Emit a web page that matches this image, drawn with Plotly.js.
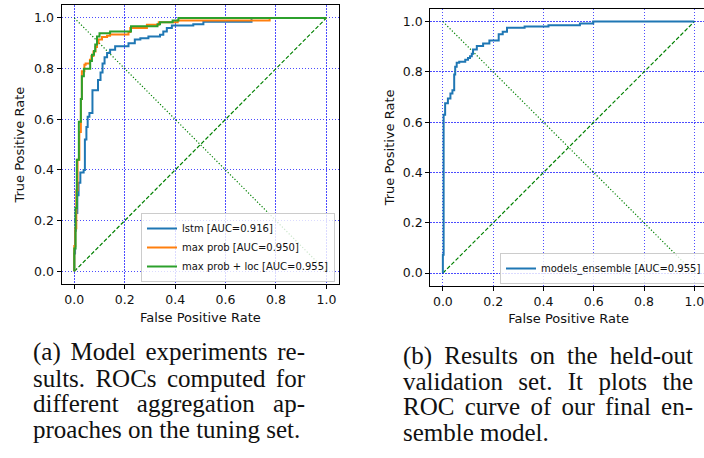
<!DOCTYPE html>
<html>
<head>
<meta charset="utf-8">
<script src="https://cdn.plot.ly/plotly-3.0.1.min.js"></script>
<style>
html,body{margin:0;padding:0;background:#fff;overflow:hidden;width:704px;height:458px;}
#chart{width:712px;height:458px;}
</style>
</head>
<body>
<div id="chart"></div>
<script>
// ---------- data ----------
const tickVals = [0, 0.2, 0.4, 0.6, 0.8, 1.0];
const tickText = ['0.0', '0.2', '0.4', '0.6', '0.8', '1.0'];

const lstmName = 'lstm [AUC=0.916]';
const lstmFpr = [0,0,0.003,0.003,0.006,0.006,0.012,0.012,0.017,0.017,0.024,0.024,0.037,0.037,0.042,0.042,0.048,0.048,0.053,0.053,0.06,0.06,0.072,0.072,0.094,0.094,0.104,0.104,0.112,0.112,0.12,0.12,0.13,0.13,0.142,0.142,0.162,0.162,0.215,0.215,0.24,0.24,0.262,0.262,0.294,0.294,0.34,0.34,0.353,0.353,0.367,0.367,0.387,0.387,0.472,0.472,0.512,0.512,0.703,0.703,1];
const lstmTpr = [0,0.07,0.07,0.16,0.16,0.23,0.23,0.30,0.30,0.35,0.35,0.39,0.39,0.40,0.40,0.52,0.52,0.57,0.57,0.61,0.61,0.625,0.625,0.715,0.715,0.755,0.755,0.785,0.785,0.82,0.82,0.845,0.845,0.862,0.862,0.875,0.875,0.888,0.888,0.9,0.9,0.915,0.915,0.92,0.92,0.927,0.927,0.934,0.934,0.947,0.947,0.96,0.96,0.97,0.97,0.975,0.975,0.985,0.985,1.0,1.0];

const probName = 'max prob [AUC=0.950]';
const probFpr = [0,0,0.004,0.004,0.008,0.008,0.013,0.013,0.02,0.02,0.026,0.026,0.03,0.03,0.04,0.04,0.045,0.045,0.062,0.062,0.068,0.068,0.076,0.076,0.084,0.084,0.09,0.09,0.096,0.096,0.11,0.11,0.13,0.13,0.142,0.142,0.215,0.215,0.222,0.222,0.288,0.288,0.335,0.335,0.41,0.41,0.775,0.775,1];
const probTpr = [0,0.1,0.1,0.17,0.17,0.32,0.32,0.44,0.44,0.55,0.55,0.68,0.68,0.79,0.79,0.815,0.815,0.82,0.82,0.835,0.835,0.85,0.85,0.868,0.868,0.885,0.885,0.9,0.9,0.915,0.915,0.925,0.925,0.93,0.93,0.935,0.935,0.945,0.945,0.96,0.96,0.973,0.973,0.983,0.983,0.99,0.99,1.0,1.0];

const locName = 'max prob + loc [AUC=0.955]';
const locFpr = [0,0,0.005,0.005,0.01,0.01,0.018,0.018,0.026,0.026,0.03,0.03,0.038,0.038,0.063,0.063,0.07,0.07,0.078,0.078,0.083,0.083,0.09,0.09,0.1,0.1,0.142,0.142,0.225,0.225,0.33,0.33,0.34,0.34,0.39,0.39,0.413,0.413,1];
const locTpr = [0,0.09,0.09,0.25,0.25,0.44,0.44,0.59,0.59,0.68,0.68,0.77,0.77,0.80,0.80,0.83,0.83,0.855,0.855,0.87,0.87,0.895,0.895,0.927,0.927,0.94,0.94,0.947,0.947,0.967,0.967,0.975,0.975,0.983,0.983,0.99,0.99,1.0,1.0];

const ensName = 'models_ensemble [AUC=0.955]';
const ensFpr = [0,0,0.003,0.003,0.009,0.009,0.02,0.02,0.03,0.03,0.038,0.038,0.045,0.045,0.049,0.049,0.055,0.055,0.065,0.065,0.089,0.089,0.1,0.1,0.108,0.108,0.115,0.115,0.12,0.12,0.135,0.135,0.16,0.16,0.185,0.185,0.222,0.222,0.238,0.238,0.255,0.255,0.325,0.325,0.42,0.42,0.545,0.545,0.598,0.598,1];
const ensTpr = [0,0.073,0.073,0.63,0.63,0.675,0.675,0.694,0.694,0.714,0.714,0.727,0.727,0.79,0.79,0.82,0.82,0.836,0.836,0.84,0.84,0.848,0.848,0.855,0.855,0.862,0.862,0.872,0.872,0.889,0.889,0.903,0.903,0.913,0.913,0.925,0.925,0.95,0.95,0.96,0.96,0.975,0.975,0.98,0.98,0.985,0.985,0.992,0.992,1.0,1.0];

const chanceX = [0, 1];
const chanceY = [0, 1];
const antiY = [1, 0];

const xTitle = 'False Positive Rate';
const yTitle = 'True Positive Rate';

const captionA = ['(a) Model experiments re-', 'sults. ROCs computed for', 'different aggregation ap-', 'proaches on the tuning set.'];
const captionB = ['(b) Results on the held-out', 'validation set. It plots the', 'ROC curve of our final en-', 'semble model.'];

// ---------- layout helpers ----------
const W = 712, H = 458;
const px = p => p / W;
const py = p => 1 - p / H;

const blue = '#1f77b4', orange = '#ff7f0e', green = '#2ca02c', diagGreen = '#008000';

function curve(xs, ys, name, color, xa, ya, lg) {
  return {x: xs, y: ys, name: name, mode: 'lines', type: 'scatter',
    line: {color: color, width: 2}, xaxis: xa, yaxis: ya, legend: lg, hoverinfo: 'skip'};
}
function diag(ys, dash, width, xa, ya) {
  return {x: chanceX, y: ys, mode: 'lines', type: 'scatter', showlegend: false,
    line: {color: diagGreen, width: width, dash: dash}, xaxis: xa, yaxis: ya, hoverinfo: 'skip'};
}

const traces = [
  diag(chanceY, '4px,2px', 1.2, 'x', 'y'),
  diag(antiY, '1.2px,2px', 1.2, 'x', 'y'),
  curve(lstmFpr, lstmTpr, lstmName, blue, 'x', 'y', 'legend'),
  curve(probFpr, probTpr, probName, orange, 'x', 'y', 'legend'),
  curve(locFpr, locTpr, locName, green, 'x', 'y', 'legend'),
  diag(chanceY, '4px,2px', 1.2, 'x2', 'y2'),
  diag(antiY, '1.2px,2px', 1.2, 'x2', 'y2'),
  curve(ensFpr, ensTpr, ensName, blue, 'x2', 'y2', 'legend2')
];

const tickFont = {family: 'DejaVu Sans', size: 12.5, color: '#111'};
function axis(domain, anchor, title, standoff) {
  return {
    domain: domain, anchor: anchor, range: [-0.05, 1.05], autorange: false,
    tickmode: 'array', tickvals: tickVals, ticktext: tickText,
    ticks: 'outside', ticklen: 4, tickwidth: 1, tickcolor: '#000',
    showline: true, mirror: true, linecolor: '#000', linewidth: 1.2,
    showgrid: true, gridcolor: 'rgba(0,0,255,0.7)', gridwidth: 1, griddash: '1.2px,1.8px',
    zeroline: false, tickfont: tickFont, fixedrange: true,
    title: {text: title, font: {family: 'DejaVu Sans', size: 13, color: '#111'}, standoff: standoff}
  };
}

const legendBase = {
  xref: 'paper', yref: 'paper', xanchor: 'right', yanchor: 'bottom',
  bgcolor: 'rgba(255,255,255,0.8)', bordercolor: '#cccccc', borderwidth: 1,
  font: {family: 'DejaVu Sans', size: 10, color: '#111'}, itemwidth: 30, tracegroupgap: 0
};

// captions (justified lines like the LaTeX source)
const capFont = "25px 'Liberation Serif'";
const canvas = document.createElement('canvas');
const ctx = canvas.getContext('2d');
ctx.font = capFont;
function captionAnns(lines, x0, width, yCenters) {
  return lines.map((t, i) => {
    let text = t;
    if (i < lines.length - 1) {
      const n = t.split(' ').length - 1;
      const natural = ctx.measureText(t).width;
      const ws = Math.max(0, (width - natural) / n);
      text = '<span style="word-spacing:' + ws.toFixed(2) + 'px">' + t + '</span>';
    }
    return {text: text, xref: 'paper', yref: 'paper', x: px(x0), y: py(yCenters[i]),
      xanchor: 'left', yanchor: 'middle', showarrow: false, borderpad: 0,
      font: {family: 'Liberation Serif', size: 25, color: '#111'}};
  });
}

const annotations = [].concat(
  captionAnns(captionA, 32, 272, [352, 378, 403.5, 429]),
  captionAnns(captionB, 402, 290, [355.5, 381, 406.5, 432])
);

const layout = {
  width: W, height: H,
  margin: {l: 0, r: 0, t: 0, b: 0, pad: 0},
  paper_bgcolor: '#fff', plot_bgcolor: '#fff',
  showlegend: true,
  xaxis: axis([px(61.7), px(339)], 'y', xTitle, 6),
  yaxis: axis([py(284), py(5.3)], 'x', yTitle, 6),
  xaxis2: axis([px(430.3), px(706.9)], 'y2', xTitle, 6),
  yaxis2: axis([py(285.7), py(9)], 'x2', yTitle, 5),
  legend: Object.assign({}, legendBase, {x: px(335), y: py(282)}),
  legend2: Object.assign({}, legendBase, {x: px(707), y: py(284)}),
  annotations: annotations
};

Plotly.newPlot('chart', traces, layout, {staticPlot: true, displayModeBar: false});
</script>
</body>
</html>
